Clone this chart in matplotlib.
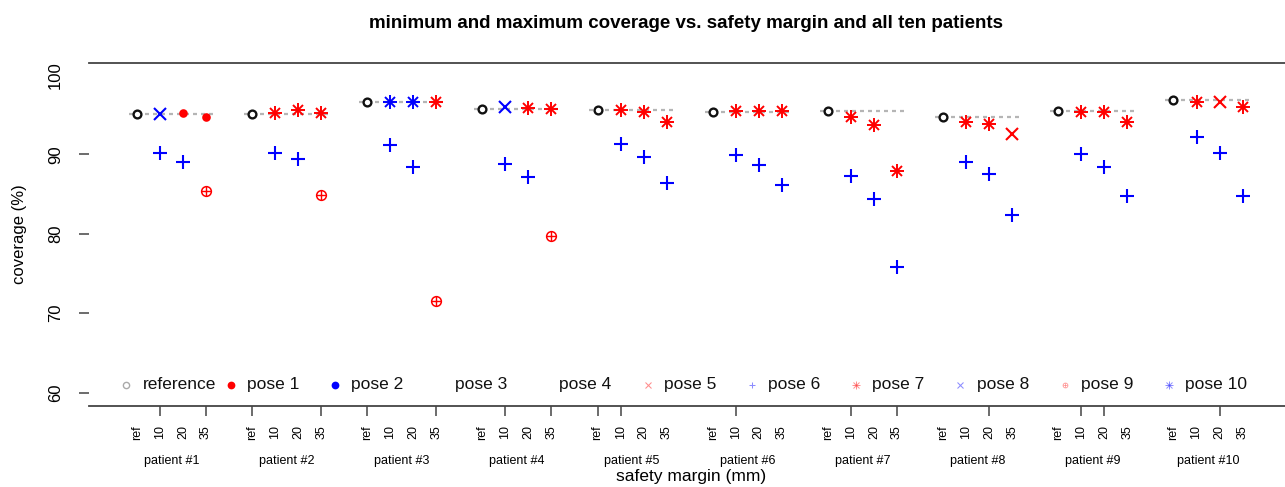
import matplotlib.pyplot as plt
from matplotlib.transforms import blended_transform_factory

patients = ["patient #1", "patient #2", "patient #3", "patient #4", "patient #5",
            "patient #6", "patient #7", "patient #8", "patient #9", "patient #10"]
margins = ["ref", "10", "20", "35"]

# coverage (%) of the reference plan per patient
ref_cov = [95.03, 95.03, 96.54, 95.70, 95.57, 95.36, 95.45, 94.66, 95.45, 96.80]

# maximum / minimum coverage for 10, 20, 35 mm safety margin
max_cov = [[95.03, 95.23, 94.73], [95.23, 95.57, 95.16], [96.54, 96.54, 96.54],
           [95.91, 95.86, 95.70], [95.57, 95.28, 94.06], [95.45, 95.45, 95.45],
           [94.66, 93.65, 87.90], [94.06, 93.81, 92.55], [95.36, 95.28, 94.06],
           [96.58, 96.58, 95.91]]
min_cov = [[90.20, 89.03, 85.34], [90.20, 89.37, 84.92], [91.17, 88.36, 71.54],
           [88.78, 87.18, 79.76], [91.26, 89.70, 86.43], [89.91, 88.62, 86.14],
           [87.31, 84.34, 75.78], [89.07, 87.48, 82.36], [90.04, 88.44, 84.75],
           [92.14, 90.13, 84.75]]

# pose that gave the max / min value
max_pose = [[8, 1, 1], [7, 7, 7], [10, 10, 7], [8, 7, 7], [7, 7, 7],
            [7, 7, 7], [7, 7, 7], [7, 7, 5], [7, 7, 7], [7, 5, 7]]
min_pose = [[6, 6, 9], [6, 6, 9], [6, 6, 9], [6, 6, 9], [6, 6, 6],
            [6, 6, 6], [6, 6, 6], [6, 6, 6], [6, 6, 6], [6, 6, 6]]

legend_labels = ["reference"] + ["pose %d" % i for i in range(1, 11)]

plt.rcParams['font.family'] = ['Liberation Sans', 'DejaVu Sans']

RED = '#ff0000'
BLUE = '#0000ff'
AXC = '#444444'
POSE_SYMBOL = {1: 'dot', 2: 'dot', 3: None, 4: None, 5: 'cross', 6: 'plus',
               7: 'star', 8: 'cross', 9: 'oplus', 10: 'star'}


def draw_pose(ax, x, y, pose, s=1.0, alpha=1.0, **kw):
    c = RED if pose % 2 else BLUE
    kind = POSE_SYMBOL[pose]
    common = dict(color=c, alpha=alpha, linestyle='none', **kw)
    if kind == 'dot':
        ax.plot(x, y, marker='o', ms=6.2 * s, mec=c, mfc=c, mew=0, **common)
    elif kind == 'cross':
        ax.plot(x, y, marker='x', ms=8 * s, mew=1.5 * s, **common)
    elif kind == 'plus':
        ax.plot(x, y, marker='+', ms=10 * s, mew=1.5 * s, **common)
    elif kind == 'star':
        ax.plot(x, y, marker='+', ms=10.5 * s, mew=1.4 * s, **common)
        ax.plot(x, y, marker='x', ms=7.4 * s, mew=1.4 * s, **common)
    elif kind == 'oplus':
        ax.plot(x, y, marker='o', ms=7 * s, mfc='none', mec=c, mew=1.1 * s, **common)
        ax.plot(x, y, marker='+', ms=7 * s, mew=1.0 * s, **common)


fig = plt.figure(figsize=(12.85, 4.87), dpi=100)
ax = fig.add_axes([0.0695, 0.1663, 0.9305, 0.705])
ax.set_xlim(-2.06, 49.84)
ax.set_ylim(58.33, 101.52)

for p in range(len(patients)):
    x0 = p * 5
    ax.plot([x0 - 0.35, x0 + 3.4], [ref_cov[p]] * 2, color='#b5b5b5', lw=1.6,
            linestyle=(0, (1.8, 1.8)), zorder=1)
    ax.plot(x0, ref_cov[p], marker='o', ms=5.6, mfc='white', mec='#111111', mew=1.7, zorder=3)
    for j in range(3):
        draw_pose(ax, x0 + j + 1, max_cov[p][j], max_pose[p][j], zorder=3)
        draw_pose(ax, x0 + j + 1, min_cov[p][j], min_pose[p][j], zorder=3)

# legend row drawn by hand
for i, lab in enumerate(legend_labels):
    mx = 0.031 + i * 0.0872
    ly = 0.0612
    if i == 0:
        ax.plot(mx, ly, marker='o', ms=4.5, mfc='none', mec='#aaaaaa', mew=1.0,
                transform=ax.transAxes)
    elif POSE_SYMBOL[i] == 'dot':
        draw_pose(ax, mx, ly, i, s=0.9, transform=ax.transAxes)
    elif POSE_SYMBOL[i] is not None:
        draw_pose(ax, mx, ly, i, s=0.5, alpha=0.45, transform=ax.transAxes)
    ax.text(mx + 0.0134, ly, lab, transform=ax.transAxes, fontsize=12.5,
            ha='left', va='center', color='#111111')

# axes frame: only top and bottom lines survive
for side in ['left', 'right']:
    ax.spines[side].set_visible(False)
for side in ['top', 'bottom']:
    ax.spines[side].set_color(AXC)
    ax.spines[side].set_linewidth(1.3)

ax.xaxis.remove_overlapping_locs = False
ax.yaxis.remove_overlapping_locs = False

xpos = [p * 5 + j for p in range(len(patients)) for j in range(4)]
ax.set_xticks(xpos, [m for p in patients for m in margins], rotation=90, fontsize=9)
ax.tick_params(axis='x', which='major', length=0, pad=14)
tick_marks = [(0, 1), (0, 3), (1, 0), (1, 3), (2, 0), (2, 3), (3, 1), (3, 3), (4, 0),
              (4, 1), (5, 1), (6, 1), (6, 3), (7, 2), (8, 1), (8, 2), (9, 2)]
ax.set_xticks([p * 5 + j for p, j in tick_marks], minor=True)
ax.tick_params(axis='x', which='minor', length=7.2, width=1.1, color=AXC)

ax.set_yticks([60, 70, 80, 90, 100], ["60", "70", "80", "90", "100"], fontsize=12)
for t in ax.get_yticklabels():
    t.set_rotation(90)
    t.set_va('center')
ax.tick_params(axis='y', which='major', length=0, pad=19)
ax.set_yticks([60, 70, 80, 90], minor=True)
ax.tick_params(axis='y', which='minor', length=7.5, width=1.1, color=AXC)

trans = blended_transform_factory(ax.transData, ax.transAxes)
for p, name in enumerate(patients):
    ax.annotate(name, xy=(p * 5 + 1.5, 0), xycoords=trans, xytext=(0, -39.5),
                textcoords='offset points', ha='center', va='center', fontsize=9)

ax.annotate("safety margin (mm)", xy=(0.5, 0), xycoords='axes fraction', xytext=(3, -51),
            textcoords='offset points', ha='center', va='center', fontsize=12.5)
ax.annotate("coverage (%)", xy=(0, 0.5), xycoords='axes fraction', xytext=(-50, 0),
            textcoords='offset points', ha='center', va='center', rotation=90, fontsize=12)

fig.text(0.534, 0.952, "minimum and maximum coverage vs. safety margin and all ten patients",
         ha='center', va='center', fontsize=13.5, fontweight='bold')

fig.savefig("out.png", dpi=100)
